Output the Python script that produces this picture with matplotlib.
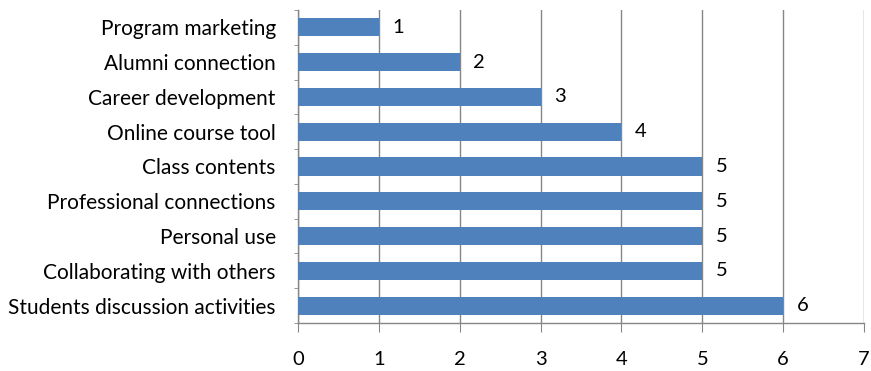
import matplotlib
matplotlib.use('Agg')
from matplotlib import pyplot as plt
from matplotlib.ticker import MultipleLocator

categories = ['Students discussion activities', 'Collaborating with others', 'Personal use',
              'Professional connections', 'Class contents', 'Online course tool',
              'Career development', 'Alumni connection', 'Program marketing']
values = [6, 5, 5, 5, 5, 4, 3, 2, 1]

plt.rcParams['font.family'] = ['Lato', 'DejaVu Sans']

fig = plt.figure(figsize=(8.71, 3.71), dpi=100)
ax = fig.add_axes([298 / 871, 1 - 323 / 371, 566 / 871, 313 / 371])

pos = list(range(len(categories)))
ax.barh(pos, values, height=0.52, color='#4F81BD', zorder=3)
for p, v in zip(pos, values):
    ax.text(v + 0.17, p, str(v), va='center', ha='left', fontsize=14.5, color='black')

ax.set_xlim(0, 7)
ax.set_ylim(-0.5, len(categories) - 0.5)
ax.xaxis.set_major_locator(MultipleLocator(1))
ax.set_yticks(pos)
ax.set_yticklabels(categories)
ax.set_yticks([p - 0.5 for p in range(len(categories) + 1)], minor=True)

# Gridlines
ax.grid(axis='x', color='#868686', lw=1, zorder=0)
for s in ['top', 'right']:
    ax.spines[s].set_visible(False)
for s in ['left', 'bottom']:
    ax.spines[s].set_color('#868686')
    ax.spines[s].set_linewidth(1)

ax.tick_params(axis='y', which='major', length=0, labelsize=15, pad=16)
ax.tick_params(axis='y', which='minor', length=3, color='#868686')
ax.tick_params(axis='x', length=6.5, color='#868686', labelsize=14.5, pad=14)

fig.savefig('out.png', dpi=100)
